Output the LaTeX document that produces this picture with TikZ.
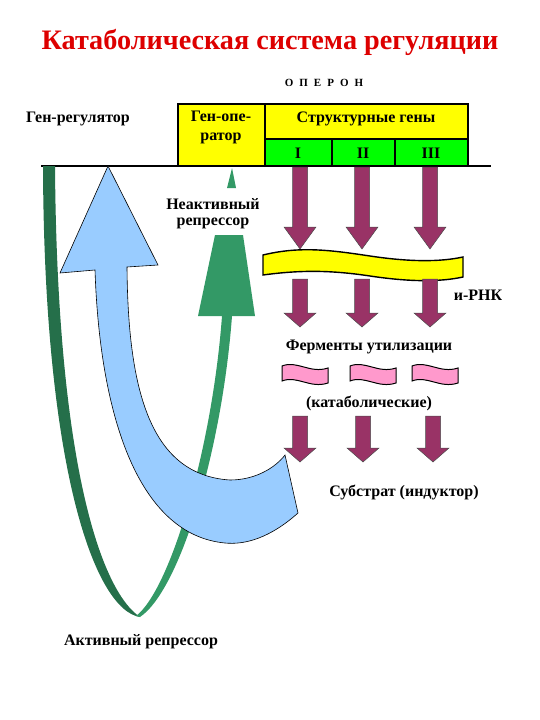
\documentclass[tikz,border=0pt]{standalone}
\usepackage{fontspec}
\setmainfont{Liberation Serif}
\usetikzlibrary{positioning}
\definecolor{titlered}{HTML}{DD0000}
\definecolor{geneyellow}{HTML}{FFFF00}
\definecolor{genegreen}{HTML}{00FF00}
\definecolor{arrpurple}{HTML}{993366}
\definecolor{arrblue}{HTML}{99CCFF}
\definecolor{repgreen}{HTML}{339966}
\definecolor{repdark}{HTML}{256F4A}
\definecolor{enzpink}{HTML}{FF99CC}
\tikzset{
    lbl/.style={font=\bfseries\fontsize{16}{17}\selectfont, inner sep=0pt},
    genebox/.style={draw=black, line width=1.4pt},
    purparr/.style={fill=arrpurple, draw=black!70, line width=0.5pt},
    flag/.style={fill=enzpink, draw=black, line width=1pt}
}

\begin{document}
\begin{tikzpicture}[x=1pt,y=-1pt]
            \useasboundingbox (0,0) rectangle (540,720);

            \node[text=titlered, font=\bfseries\fontsize{28.2}{32}\selectfont] (title) at (270,42) {Катаболическая система регуляции};
            \node[lbl, font=\bfseries\fontsize{11}{13}\selectfont] (operon) at (324,83) {О\hspace{6pt}П\hspace{6pt}Е\hspace{6pt}Р\hspace{6pt}О\hspace{6pt}Н};
            \node[lbl, anchor=west] (regulator) at (26,119) {Ген-регулятор};

            \draw[genebox, fill=geneyellow] (178,104) rectangle (265,166);
            \draw[genebox, fill=geneyellow] (265,104) rectangle (468,139);
            \draw[genebox, fill=genegreen] (265,139) rectangle (332,166);
            \draw[genebox, fill=genegreen] (332,139) rectangle (395,166);
            \draw[genebox, fill=genegreen] (395,139) rectangle (468,166);
            \node[lbl, align=center] (operator) at (221,127) {Ген-опе-\\[2pt]ратор};
            \node[lbl] (structural) at (366,119) {Структурные гены};
            \node[lbl] (geneI) at (298,153) {I};
            \node[lbl] (geneII) at (363,153) {II};
            \node[lbl] (geneIII) at (431,153) {III};
            \draw[line width=1.4pt] (41,166) -- (491,166);

            \foreach \x in {300,362,430}
                \draw[purparr] (\x-7.5,167) -- (\x+7.5,167) -- (\x+7.5,227) -- (\x+16,227) -- (\x,249) -- (\x-16,227) -- (\x-7.5,227) -- cycle;
            \draw[fill=geneyellow, draw=black, line width=1.4pt] (263,255) .. controls (300,246) and (330,250) .. (370,256) .. controls (410,262) and (440,262) .. (463,257) -- (463,277) .. controls (440,282) and (410,282) .. (370,276) .. controls (330,270) and (300,270) .. (263,275) -- cycle;
            \foreach \x in {300,362,430}
                \draw[purparr] (\x-7.5,279) -- (\x+7.5,279) -- (\x+7.5,313) -- (\x+16,313) -- (\x,327) -- (\x-16,313) -- (\x-7.5,313) -- cycle;
            \node[lbl] (mrna) at (478,295) {и-РНК};
            \node[lbl] (enzymes) at (369,347) {Ферменты утилизации};
            \foreach \x in {282,350,412}
                \draw[flag] (\x,366) .. controls (\x+15,360) and (\x+28,374) .. (\x+46,368) -- (\x+46,383) .. controls (\x+28,389) and (\x+15,375) .. (\x,381) -- cycle;
            \node[lbl] (catabolic) at (369,403) {(катаболические)};
            \foreach \x in {300,363,433}
                \draw[purparr] (\x-7.5,416) -- (\x+7.5,416) -- (\x+7.5,448) -- (\x+16,448) -- (\x,462) -- (\x-16,448) -- (\x-7.5,448) -- cycle;
            \node[lbl] (substrate) at (404,492) {Субстрат (индуктор)};

            \fill[repdark] (43,166) -- (55,166) .. controls (57,460) and (100,590) .. (140,617) .. controls (95,610) and (44,470) .. (43,166) -- cycle;
            \fill[repgreen] (140,617) .. controls (180,590) and (222,450) .. (232,316) -- (222,316) .. controls (212,450) and (170,590) .. (136,616) -- cycle;
            \fill[repgreen] (215,235) -- (243,235) -- (255,316) -- (198,316) -- cycle;
            \fill[repgreen] (232,168) -- (236,188) -- (227,188) -- cycle;
            \node[lbl, align=center] (inactive) at (213,214) {Неактивный\\[-1pt]репрессор};

            \draw[fill=arrblue, draw=black, line width=0.6pt] (108,166) -- (158,265) -- (127,267) .. controls (128,390) and (150,475) .. (230,480) .. controls (255,480) and (275,468) .. (285,455) -- (298,513) .. controls (270,538) and (245,545) .. (225,543) .. controls (140,535) and (100,420) .. (95,270) -- (60,273) -- cycle;
            \node[lbl] (active) at (141,642) {Активный репрессор};
        \end{tikzpicture}
\end{document}
